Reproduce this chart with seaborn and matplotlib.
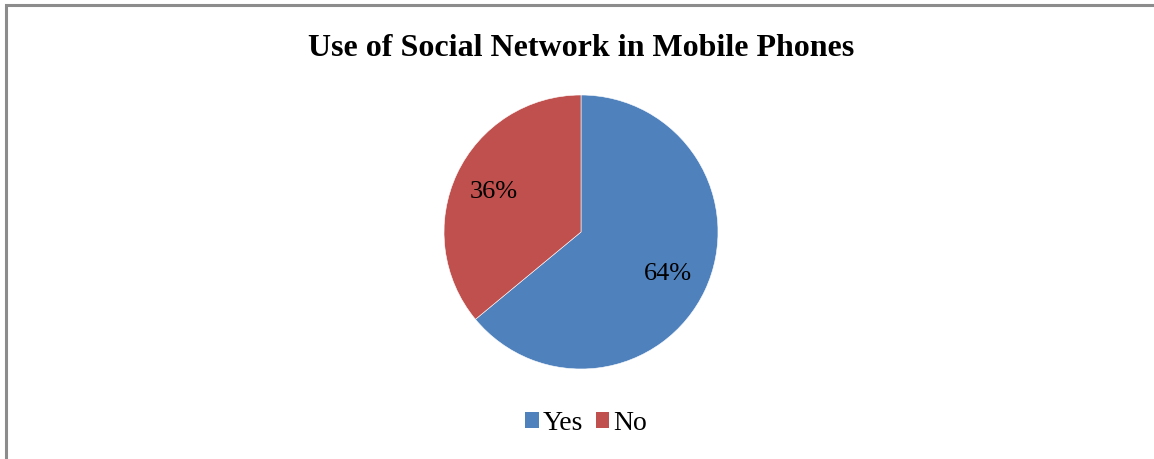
import matplotlib
matplotlib.use("Agg")
import matplotlib.pyplot as plt
import seaborn as sns
from matplotlib.patches import Rectangle, Patch

categories = ["Yes", "No"]
values = [64, 36]
colors = ["#4F81BD", "#C0504D"]
title = "Use of Social Network in Mobile Phones"

sns.set_style("white")
plt.rcParams['font.family'] = ['Liberation Serif', 'DejaVu Serif']
plt.rcParams['text.color'] = 'black'

W, H = 1154, 460
fig = plt.figure(figsize=(W / 100, H / 100), dpi=100)
palette = sns.color_palette(colors)

cx, cy, r = 581, 233, 137
ax = fig.add_axes([(cx - r) / W, (H - cy - r) / H, 2 * r / W, 2 * r / H])
wedges, texts, autotexts = ax.pie(
    values, colors=palette, startangle=90, counterclock=False,
    autopct=lambda p: f"{p:.0f}%", pctdistance=0.70,
    wedgeprops=dict(edgecolor="white", linewidth=0.4),
    textprops=dict(fontsize=19, color="black"))
ax.set_xlim(-1, 1)
ax.set_ylim(-1, 1)
ax.axis("off")

fig.text(cx / W, 1 - 48 / H, title, ha="center", va="center",
         fontsize=23, fontweight="bold", color="black")

handles = [Patch(facecolor=c, edgecolor="none") for c in palette]
leg = fig.legend(handles, categories, loc="center", bbox_to_anchor=(586 / W, 1 - 424 / H),
                 ncol=2, frameon=False, fontsize=20, handlelength=0.5, handleheight=0.5,
                 handletextpad=0.15, columnspacing=0.45)
for t in leg.get_texts():
    t.set_color("black")

fig.add_artist(Rectangle((6 / W, -0.1), 1.2, 1 - 6 / H + 0.1, transform=fig.transFigure,
                         fill=False, edgecolor="#8c8c8c", linewidth=2.2))

fig.savefig("out.png", dpi=100)
